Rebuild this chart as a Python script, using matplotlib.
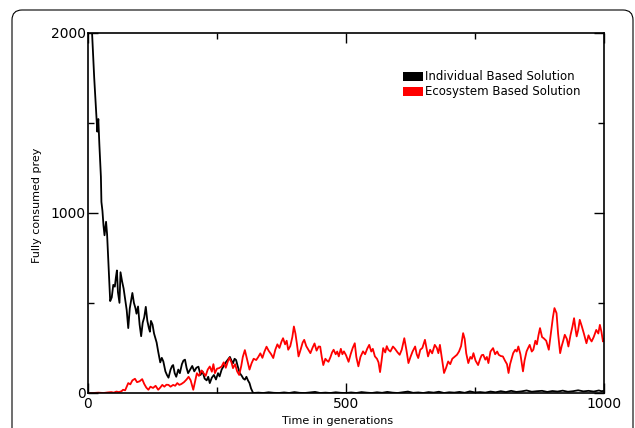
import matplotlib
matplotlib.use("Agg")
import matplotlib.pyplot as plt
from matplotlib.patches import FancyBboxPatch, Patch
from matplotlib.ticker import MultipleLocator

# Individual based solution (black)
gen_ind = [0, 5, 8, 12, 15, 17, 18, 20, 22, 25,
           26, 28, 30, 32, 35, 37, 40, 43, 46, 49,
           52, 54, 56, 58, 61, 63, 66, 69, 72, 75,
           78, 81, 84, 86, 89, 92, 94, 97, 100, 103,
           106, 109, 112, 115, 118, 120, 122, 125, 128, 131,
           133, 136, 140, 143, 146, 150, 153, 156, 160, 163,
           165, 168, 171, 175, 178, 182, 185, 188, 191, 194,
           198, 202, 206, 210, 214, 218, 222, 226, 230, 233,
           236, 240, 244, 248, 252, 255, 259, 263, 267, 271,
           275, 278, 281, 284, 287, 290, 294, 298, 301, 304,
           307, 310, 313, 316, 320, 330, 340, 350, 360, 370,
           380, 390, 400, 410, 420, 430, 440, 450, 460, 470,
           480, 490, 500, 510, 520, 530, 540, 550, 560, 570,
           580, 590, 600, 610, 620, 630, 640, 650, 660, 670,
           680, 690, 700, 710, 720, 730, 740, 750, 760, 770,
           780, 790, 800, 810, 820, 830, 840, 850, 860, 870,
           880, 890, 900, 910, 920, 930, 940, 950, 960, 970,
           980, 990, 995, 1000]
prey_ind = [2150, 2060, 1990, 1750, 1600, 1500, 1450, 1520, 1380, 1200,
            1060, 1010, 930, 875, 950, 880, 700, 510, 530, 600,
            590, 640, 680, 560, 500, 670, 620, 580, 520, 460,
            360, 470, 520, 555, 500, 470, 440, 480, 380, 315,
            390, 420, 478, 400, 360, 340, 400, 380, 330, 300,
            280, 230, 170, 195, 175, 120, 100, 85, 130, 150,
            155, 110, 90, 130, 110, 160, 180, 185, 140, 110,
            130, 150, 120, 140, 146, 100, 120, 80, 70, 90,
            55, 85, 100, 75, 110, 92, 130, 150, 170, 185,
            200, 180, 165, 190, 183, 150, 111, 95, 80, 74,
            90, 70, 55, 25, 0, 2, 0, 4, 1, 0,
            3, 0, 5, 1, 0, 3, 6, 0, 2, 0,
            4, 1, 0, 3, 0, 5, 2, 0, 4, 1,
            6, 2, 0, 4, 8, 1, 3, 0, 5, 2,
            7, 0, 4, 2, 6, 1, 9, 3, 5, 2,
            8, 4, 10, 5, 12, 6, 9, 14, 7, 10,
            12, 6, 11, 8, 13, 7, 10, 15, 9, 12,
            8, 14, 10, 12]

# Ecosystem based solution (red)
gen_eco = [0, 10, 20, 30, 38, 45, 50, 55, 60, 65,
           68, 72, 75, 78, 82, 86, 91, 95, 100, 105,
           109, 113, 117, 121, 126, 131, 136, 140, 144, 148,
           152, 156, 160, 165, 169, 173, 177, 181, 186, 191,
           195, 199, 204, 208, 211, 215, 220, 224, 228, 232,
           236, 240, 243, 246, 250, 254, 259, 263, 267, 271,
           274, 278, 281, 285, 289, 293, 297, 300, 304, 308,
           313, 317, 321, 326, 330, 334, 338, 342, 346, 350,
           355, 359, 363, 367, 371, 375, 378, 382, 385, 388,
           392, 396, 399, 402, 405, 408, 412, 416, 419, 423,
           427, 431, 435, 439, 443, 447, 450, 453, 456, 460,
           463, 466, 470, 473, 476, 480, 483, 486, 490, 493,
           496, 500, 505, 509, 513, 517, 520, 524, 528, 533,
           537, 541, 545, 549, 552, 556, 560, 563, 566, 569,
           572, 576, 579, 582, 586, 591, 595, 600, 604, 608,
           613, 617, 621, 625, 629, 634, 637, 640, 644, 648,
           653, 656, 659, 663, 667, 672, 676, 679, 682, 686,
           690, 694, 698, 702, 706, 710, 715, 719, 723, 727,
           730, 733, 737, 741, 744, 747, 751, 756, 760, 763,
           766, 770, 773, 776, 780, 785, 789, 793, 796, 800,
           804, 808, 812, 815, 818, 821, 824, 828, 831, 834,
           838, 843, 846, 850, 853, 856, 860, 863, 867, 870,
           873, 876, 880, 883, 888, 893, 897, 901, 904, 908,
           911, 915, 918, 921, 924, 928, 931, 935, 939, 942,
           945, 947, 950, 953, 957, 961, 966, 970, 973, 976,
           980, 985, 989, 992, 995, 998, 1000]
prey_eco = [0, 0, 2, 0, 3, 5, 2, 8, 5, 10,
            18, 15, 35, 55, 48, 70, 79, 60, 65, 77,
            50, 30, 18, 35, 28, 40, 18, 30, 45, 35,
            46, 45, 35, 45, 40, 55, 45, 50, 60, 75,
            90, 70, 18, 70, 110, 95, 125, 110, 95, 130,
            147, 118, 160, 110, 135, 138, 147, 170, 140, 175,
            195, 170, 138, 160, 120, 100, 150, 200, 238, 190,
            130, 165, 190, 183, 200, 220, 195, 230, 257, 235,
            215, 194, 240, 270, 250, 285, 304, 270, 290, 240,
            260, 310, 369, 330, 270, 203, 240, 280, 295, 260,
            240, 221, 250, 275, 235, 258, 257, 200, 155, 190,
            180, 173, 200, 225, 240, 215, 230, 203, 245, 215,
            231, 210, 173, 215, 250, 276, 200, 148, 200, 231,
            215, 245, 267, 230, 245, 203, 190, 170, 116, 180,
            249, 225, 260, 240, 230, 258, 245, 225, 212, 240,
            304, 240, 166, 200, 230, 258, 215, 194, 240, 250,
            295, 250, 203, 240, 220, 267, 250, 221, 267, 190,
            111, 140, 175, 160, 190, 200, 212, 230, 260, 332,
            300, 220, 166, 200, 190, 221, 180, 155, 190, 210,
            212, 185, 200, 166, 230, 249, 215, 230, 212, 205,
            203, 180, 160, 111, 160, 190, 221, 240, 230, 258,
            215, 120, 180, 231, 250, 267, 230, 240, 290, 270,
            320, 360, 310, 304, 290, 240, 330, 420, 471, 443,
            330, 221, 260, 290, 323, 300, 258, 320, 370, 415,
            350, 314, 350, 406, 370, 330, 276, 320, 300, 286,
            310, 350, 330, 378, 340, 286, 300]

fig = plt.figure(figsize=(6.35, 4.28), dpi=100)
ax = fig.add_axes([88 / 635, 1 - 393 / 428, 516 / 635, 360.5 / 428])

ax.plot(gen_ind, prey_ind, color='black', linewidth=1.3)
ax.plot(gen_eco, prey_eco, color='red', linewidth=1.3)

ax.set_xlim(0, 1000)
ax.set_ylim(0, 2000)
ax.xaxis.set_major_locator(MultipleLocator(500))
ax.xaxis.set_minor_locator(MultipleLocator(250))
ax.yaxis.set_major_locator(MultipleLocator(1000))
ax.yaxis.set_minor_locator(MultipleLocator(500))
ax.tick_params(which='both', direction='in', top=True, right=True, labelsize=10)
ax.tick_params(which='major', length=7, width=1)
ax.tick_params(which='minor', length=4, width=1)
ax.tick_params(axis='x', pad=3)
ax.tick_params(axis='y', pad=1.5)
for sp in ax.spines.values():
    sp.set_linewidth(1.2)

ax.set_ylabel('Fully consumed prey', fontsize=8)
ax.yaxis.set_label_coords(-0.089, 0.52)
ax.set_xlabel('Time in generations', fontsize=8, va='top')
ax.xaxis.set_label_coords(0.484, -0.064)

handles = [Patch(facecolor='black', edgecolor='none'),
           Patch(facecolor='red', edgecolor='none')]
ax.legend(handles, ['Individual Based Solution', 'Ecosystem Based Solution'],
          loc='upper left', bbox_to_anchor=(0.61, 0.895), frameon=False, fontsize=8.5,
          handlelength=1.7, handleheight=0.8, handletextpad=0.2,
          labelspacing=0.18, borderpad=0, borderaxespad=0)

# rounded outer frame
frame = FancyBboxPatch((12, -30), 621, 448, boxstyle="round,pad=0,rounding_size=10",
                       transform=None, facecolor='none', edgecolor='black',
                       linewidth=0.8, clip_on=False)
fig.add_artist(frame)

plt.savefig("out.png", dpi=100)
